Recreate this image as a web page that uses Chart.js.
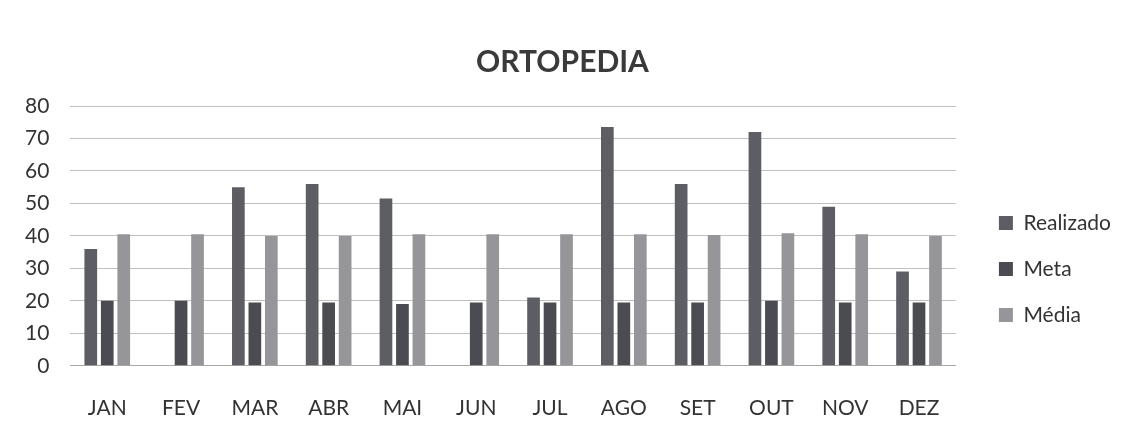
<!DOCTYPE html>
<html>
<head>
<meta charset="utf-8">
<script src="https://cdn.jsdelivr.net/npm/chart.js@4"></script>
<style>
  html, body { margin: 0; padding: 0; background: #fff; }
  #wrap { width: 1133px; height: 443px; }
</style>
</head>
<body>
<div id="wrap"><canvas id="ortopedia"></canvas></div>
<script>
const meses = ['JAN', 'FEV', 'MAR', 'ABR', 'MAI', 'JUN', 'JUL', 'AGO', 'SET', 'OUT', 'NOV', 'DEZ'];
const realizado = [36, 0, 55, 56, 51.5, 0, 21, 73.5, 56, 72, 49, 29];
const meta = [20, 20, 19.5, 19.5, 19, 19.5, 19.5, 19.5, 19.5, 20, 19.5, 19.5];
const media = [40.5, 40.5, 40, 40, 40.5, 40.5, 40.5, 40.5, 40.3, 40.8, 40.5, 40];
const yTicks = [0, 10, 20, 30, 40, 50, 60, 70, 80];

const fonte = 'Lato, "Open Sans", sans-serif';
const ctx = document.getElementById('ortopedia').getContext('2d');
new Chart(ctx, {
  type: 'bar',
  data: {
    labels: meses,
    datasets: [
      { label: 'Realizado', data: realizado, backgroundColor: '#5d5e64' },
      { label: 'Meta', data: meta, backgroundColor: '#4b4c51' },
      { label: 'Média', data: media, backgroundColor: '#96969a' }
    ]
  },
  options: {
    responsive: true,
    maintainAspectRatio: false,
    animation: false,
    datasets: { bar: { categoryPercentage: 0.67, barPercentage: 0.77 } },
    layout: { padding: { left: 4, right: 12, top: 40, bottom: 0 } },
    plugins: {
      title: {
        display: true,
        text: 'ORTOPEDIA',
        color: '#3a3a3a',
        font: { family: fonte, size: 30, weight: 'bold' },
        padding: { top: 4, bottom: 26 }
      },
      legend: {
        position: 'right',
        title: { display: true, text: ' ', font: { size: 20 }, padding: { top: 0, bottom: 31 } },
        labels: {
          color: '#333',
          font: { family: fonte, size: 21 },
          boxWidth: 14,
          boxHeight: 14,
          padding: 25
        }
      },
      tooltip: { enabled: false }
    },
    scales: {
      x: {
        grid: { display: false },
        border: { color: '#a8a8a8' },
        ticks: { color: '#333', font: { family: fonte, size: 21 }, padding: 22 }
      },
      y: {
        min: 0,
        max: 80,
        afterBuildTicks: axis => { axis.ticks = yTicks.map(v => ({ value: v })); },
        grid: { color: '#c0c0c0', drawTicks: false },
        border: { display: false },
        ticks: { color: '#333', font: { family: fonte, size: 21 }, padding: 21 }
      },
      // espaço vazio entre a área do gráfico e a legenda
      espaco: {
        type: 'linear',
        position: 'right',
        grid: { display: false },
        border: { display: false },
        ticks: { display: false },
        afterFit: s => { s.width = 18; }
      }
    }
  }
});
</script>
</body>
</html>
